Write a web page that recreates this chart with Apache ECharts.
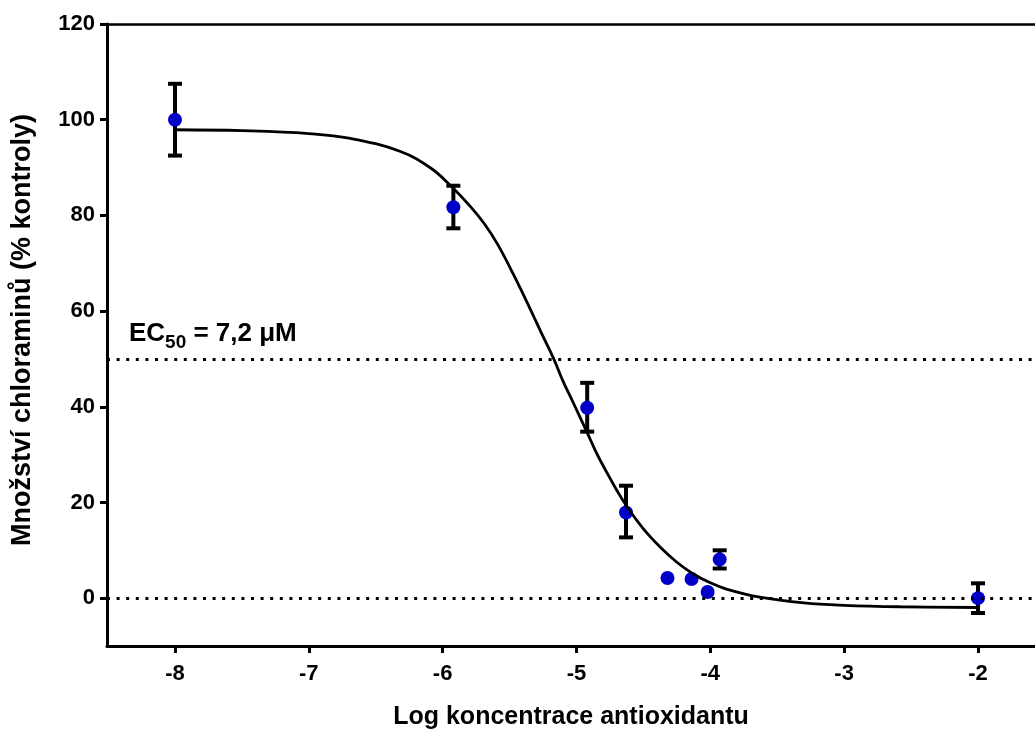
<!DOCTYPE html>
<html>
<head>
<meta charset="utf-8">
<script src="https://cdn.jsdelivr.net/npm/echarts@6/dist/echarts.min.js"></script>
<style>
html,body{margin:0;padding:0;background:#fff;}
#chart{width:1035px;height:735px;}
</style>
</head>
<body>
<div id="chart"></div>
<script>
// Measured points: [log concentration, % of control]
const pointsX = [-8.0, -5.92, -4.92, -4.63, -4.32, -4.14, -4.02, -3.93, -2.0];
const pointsY = [100.0, 81.7, 39.8, 17.9, 4.2, 4.0, 1.3, 8.1, 0.0];
// Error bar low/high (null = no bar)
const errLow  = [92.5, 77.3, 34.8, 12.7, null, null, null, 6.2, -3.1];
const errHigh = [107.5, 86.2, 45.0, 23.5, null, null, null, 10.0, 3.1];
// Fitted curve
const curveX = [-8.0, -7.5, -7.0, -6.69, -6.32, -6.09, -5.94, -5.8, -5.69, -5.59, -5.47, -5.32, -5.25, -5.17, -5.1, -5.03, -4.92, -4.85, -4.78, -4.7, -4.62, -4.5, -4.375, -4.25, -4.13, -4.0, -3.88, -3.63, -3.3, -3.0, -2.58, -2.0];
const curveY = [97.9, 97.7, 97.1, 96.1, 93.4, 89.9, 86.2, 82.1, 78.3, 74.0, 67.6, 58.9, 54.7, 50.0, 45.3, 41.2, 34.6, 30.3, 26.6, 22.6, 19.0, 14.5, 10.7, 7.5, 5.1, 3.2, 1.9, 0.2, -1.0, -1.5, -1.8, -1.95];
const yTicks = [0, 20, 40, 60, 80, 100, 120];
const xTicks = [-8, -7, -6, -5, -4, -3, -2];
const refLines = [50, 0];

const FONT = 'Arial, "Liberation Sans", Helvetica, sans-serif';
const chart = echarts.init(document.getElementById('chart'));

const scatterData = pointsX.map((x, i) => [x, pointsY[i]]);
const errData = [];
pointsX.forEach((x, i) => { if (errLow[i] !== null) errData.push([x, errLow[i], errHigh[i]]); });
const curveData = curveX.map((x, i) => [x, curveY[i]]);

const XMIN = -8.508, XMAX = -1.574;

chart.setOption({
  animation: false,
  backgroundColor: '#fff',
  grid: { left: 107, top: 24, bottom: 87, right: 0, containLabel: false },
  xAxis: [{
    type: 'value', min: XMIN, max: XMAX, position: 'bottom',
    splitLine: { show: false },
    axisLine: { show: true, onZero: false, lineStyle: { color: '#000', width: 3 } },
    axisTick: { show: true, length: 7, lineStyle: { color: '#000', width: 3 }, customValues: xTicks },
    axisLabel: { customValues: xTicks, color: '#000', fontFamily: FONT, fontWeight: 'bold', fontSize: 22, margin: 17 },
    name: 'Log koncentrace antioxidantu', nameLocation: 'middle', nameGap: 59,
    nameTextStyle: { color: '#000', fontFamily: FONT, fontWeight: 'bold', fontSize: 25 }
  }, {
    type: 'value', min: XMIN, max: XMAX, position: 'top',
    splitLine: { show: false },
    axisLine: { show: true, onZero: false, lineStyle: { color: '#000', width: 2.5 } },
    axisTick: { show: false }, axisLabel: { show: false }
  }],
  yAxis: {
    type: 'value', min: -10, max: 120,
    splitLine: { show: false },
    axisLine: { show: true, onZero: false, lineStyle: { color: '#000', width: 3 } },
    axisTick: { show: true, length: 7, lineStyle: { color: '#000', width: 3 }, customValues: yTicks },
    axisLabel: { customValues: yTicks, color: '#000', fontFamily: FONT, fontWeight: 'bold', fontSize: 22, margin: 12 },
    name: 'Množství chloraminů (% kontroly)', nameLocation: 'middle', nameGap: 71,
    nameTextStyle: { color: '#000', fontFamily: FONT, fontWeight: 'bold', fontSize: 27, padding: [0, 0, 0, 10] }
  },
  series: [
    {
      type: 'custom', name: 'err', z: 3,
      data: errData,
      renderItem: function (params, api) {
        const x = api.value(0);
        const lo = api.coord([x, api.value(1)]);
        const hi = api.coord([x, api.value(2)]);
        const hw = 7;
        const st = { stroke: '#000', lineWidth: 4 };
        return { type: 'group', children: [
          { type: 'line', shape: { x1: lo[0], y1: lo[1], x2: hi[0], y2: hi[1] }, style: st },
          { type: 'line', shape: { x1: lo[0] - hw, y1: lo[1], x2: lo[0] + hw, y2: lo[1] }, style: st },
          { type: 'line', shape: { x1: hi[0] - hw, y1: hi[1], x2: hi[0] + hw, y2: hi[1] }, style: st }
        ]};
      }
    },
    {
      type: 'scatter', name: 'data', z: 4,
      data: scatterData, symbol: 'circle', symbolSize: 14,
      itemStyle: { color: '#0000C8', opacity: 1 }
    },
    {
      type: 'line', name: 'fit', z: 5,
      data: curveData, smooth: 0.4, showSymbol: false, symbol: 'none',
      lineStyle: { color: '#000', width: 2.8 },
      markLine: {
        silent: true, symbol: 'none', animation: false,
        label: { show: false },
        lineStyle: { color: '#000', width: 3, type: [3, 6.6], cap: 'butt' },
        data: refLines.map(v => ({ yAxis: v }))
      }
    }
  ]
});

// EC50 annotation anchored in data coordinates
const p = chart.convertToPixel({ xAxisIndex: 0, yAxisIndex: 0 }, [-8.344, 58.0]);
chart.setOption({
  graphic: [{
    type: 'text', left: p[0], top: p[1],
    style: {
      text: '{a|EC}{s|50}{a| = 7,2 μM}',
      rich: {
        a: { fontFamily: FONT, fontWeight: 'bold', fontSize: 26, fill: '#000', verticalAlign: 'bottom', lineHeight: 29 },
        s: { fontFamily: FONT, fontWeight: 'bold', fontSize: 19, fill: '#000', verticalAlign: 'bottom', lineHeight: 29, padding: [0, 0, -6, 0] }
      }
    }
  }]
});
</script>
</body>
</html>
